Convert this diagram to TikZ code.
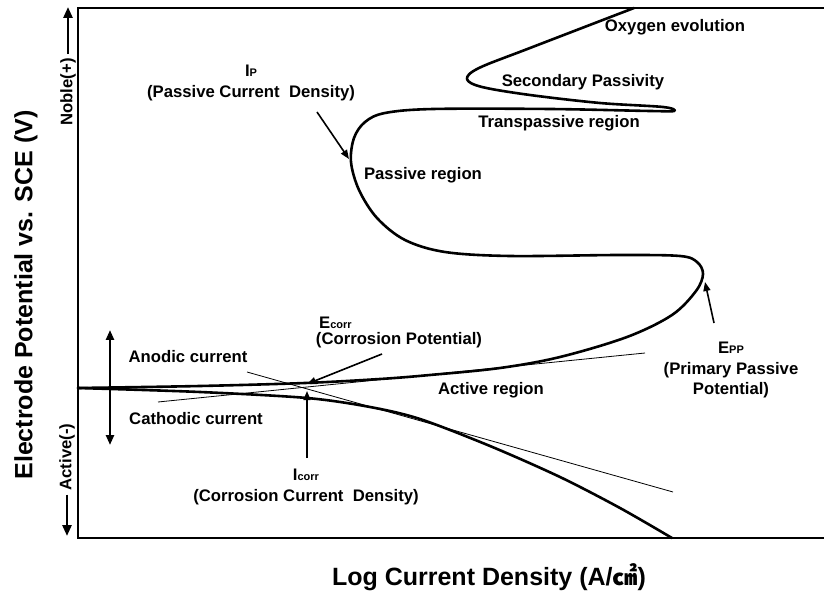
\documentclass[tikz,border=0pt]{standalone}
\usepackage{fontspec}
\setmainfont{Liberation Sans}
\newfontfamily\cjk{Noto Sans CJK SC}
\usepackage{tikz}
\usetikzlibrary{arrows.meta, positioning}
\newcommand{\subtxt}[1]{{\fontsize{11}{12}\selectfont #1}}

\begin{document}
\begin{tikzpicture}[x=1pt, y=-1pt, font=\fontsize{16.7}{20.5}\selectfont\bfseries,
    frame/.style={line width=2.6pt},
    curve/.style={line width=2.6pt, line join=round, line cap=round},
    tafel/.style={line width=0.8pt},
    pointer/.style={line width=1.6pt, -{Triangle[length=9pt,width=7pt]}},
    bigarrow/.style={line width=2.6pt, -{Triangle[length=11pt,width=9pt]}},
    lbl/.style={inner sep=0pt, align=center},
    axis/.style={inner sep=0pt, font=\fontsize{25}{30}\selectfont\bfseries}]
    \useasboundingbox (0,0) rectangle (824,593);

    % frame
    \draw[frame] (824,8) -- (78,8) -- (78,538) -- (824,538);

    % axis labels
    \node[axis, rotate=90] (ylab) at (26,295) {Electrode Potential vs. SCE (V)};
    \node[axis] (xlab) at (489,577) {Log Current Density (A/{\cjk ㎠})};
    \node[lbl, rotate=90] (noble) at (68,92) {Noble(+)};
    \node[lbl, rotate=90] (active) at (67,457) {Active(-)};
    \coordinate (nobleTip) at (68,7);
    \coordinate (activeTip) at (67,536);
    \draw[bigarrow] (noble.east) ++(0,-4) -- (nobleTip);
    \draw[bigarrow] (active.west) ++(0,4) -- (activeTip);

    % polarization curve
    \draw[curve] plot[smooth, tension=0.55] coordinates {(78,388) (200,386)
        (305,383) (380,379) (430,375) (500,368) (560,357) (627,337) (672,315)
        (696,291) (703,274) (697,262) (680,256) (620,255) (510,256) (445,252)
        (405,240) (377,218) (359,190) (351,162) (354,138) (365,122) (385,113)
        (433,109) (550,109) (650,111) (674,111) (663,107) (600,103) (530,95)
        (482,87) (467,79) (479,68) (530,48) (634,8)};
    \draw[curve] plot[smooth, tension=0.5] coordinates {(78,388) (200,392)
        (307,398) (370,407) (420,419) (490,446) (560,477) (620,508) (672,538)};

    % Tafel lines
    \draw[tafel] (158,402) -- (645,353);
    \draw[tafel] (247,372) -- (673,492);

    % double arrow
    \coordinate (anTop) at (110,330);
    \coordinate (caBot) at (110,445);
    \draw[line width=2.4pt, {Triangle[length=10pt,width=8pt]}-{Triangle[length=10pt,width=8pt]}] (anTop) -- (caBot);

    % region labels
    \node[lbl] (oxy) at (675,27) {Oxygen evolution};
    \node[lbl] (second) at (583,82) {Secondary Passivity};
    \node[lbl] (trans) at (559,123) {Transpassive region};
    \node[lbl] (passive) at (423,175) {Passive region};
    \node[lbl] (activeReg) at (491,390) {Active region};
    \node[lbl] (anodic) at (188,357) {Anodic current};
    \node[lbl] (cathodic) at (196,419) {Cathodic current};

    % characteristic points
    \node[lbl] (ip) at (251,83) {I\subtxt{P}\\(Passive Current~ Density)};
    \node[lbl] (ecorrTxt) at (399,340) {(Corrosion Potential)};
    \node[lbl, anchor=south west] (ecorr) at (319,329) {E\subtxt{corr}};
    \node[lbl] (icorr) at (306,487) {I\subtxt{corr}\\(Corrosion Current~ Density)};
    \node[lbl] (epp) at (731,370) {E\subtxt{PP}\\(Primary Passive\\Potential)};

    \coordinate (ipFrom) at (317,112);
    \coordinate (ipTip) at (349,159);
    \coordinate (ecorrFrom) at (382,354);
    \coordinate (ecorrTip) at (307,384);
    \coordinate (icorrFrom) at (307,458);
    \coordinate (icorrTip) at (307,391);
    \coordinate (eppFrom) at (714,323);
    \coordinate (eppTip) at (705,282);
    \draw[pointer] (ipFrom) -- (ipTip);
    \draw[pointer] (ecorrFrom) -- (ecorrTip);
    \draw[pointer] (icorrFrom) -- (icorrTip);
    \draw[pointer] (eppFrom) -- (eppTip);
\end{tikzpicture}
\end{document}
